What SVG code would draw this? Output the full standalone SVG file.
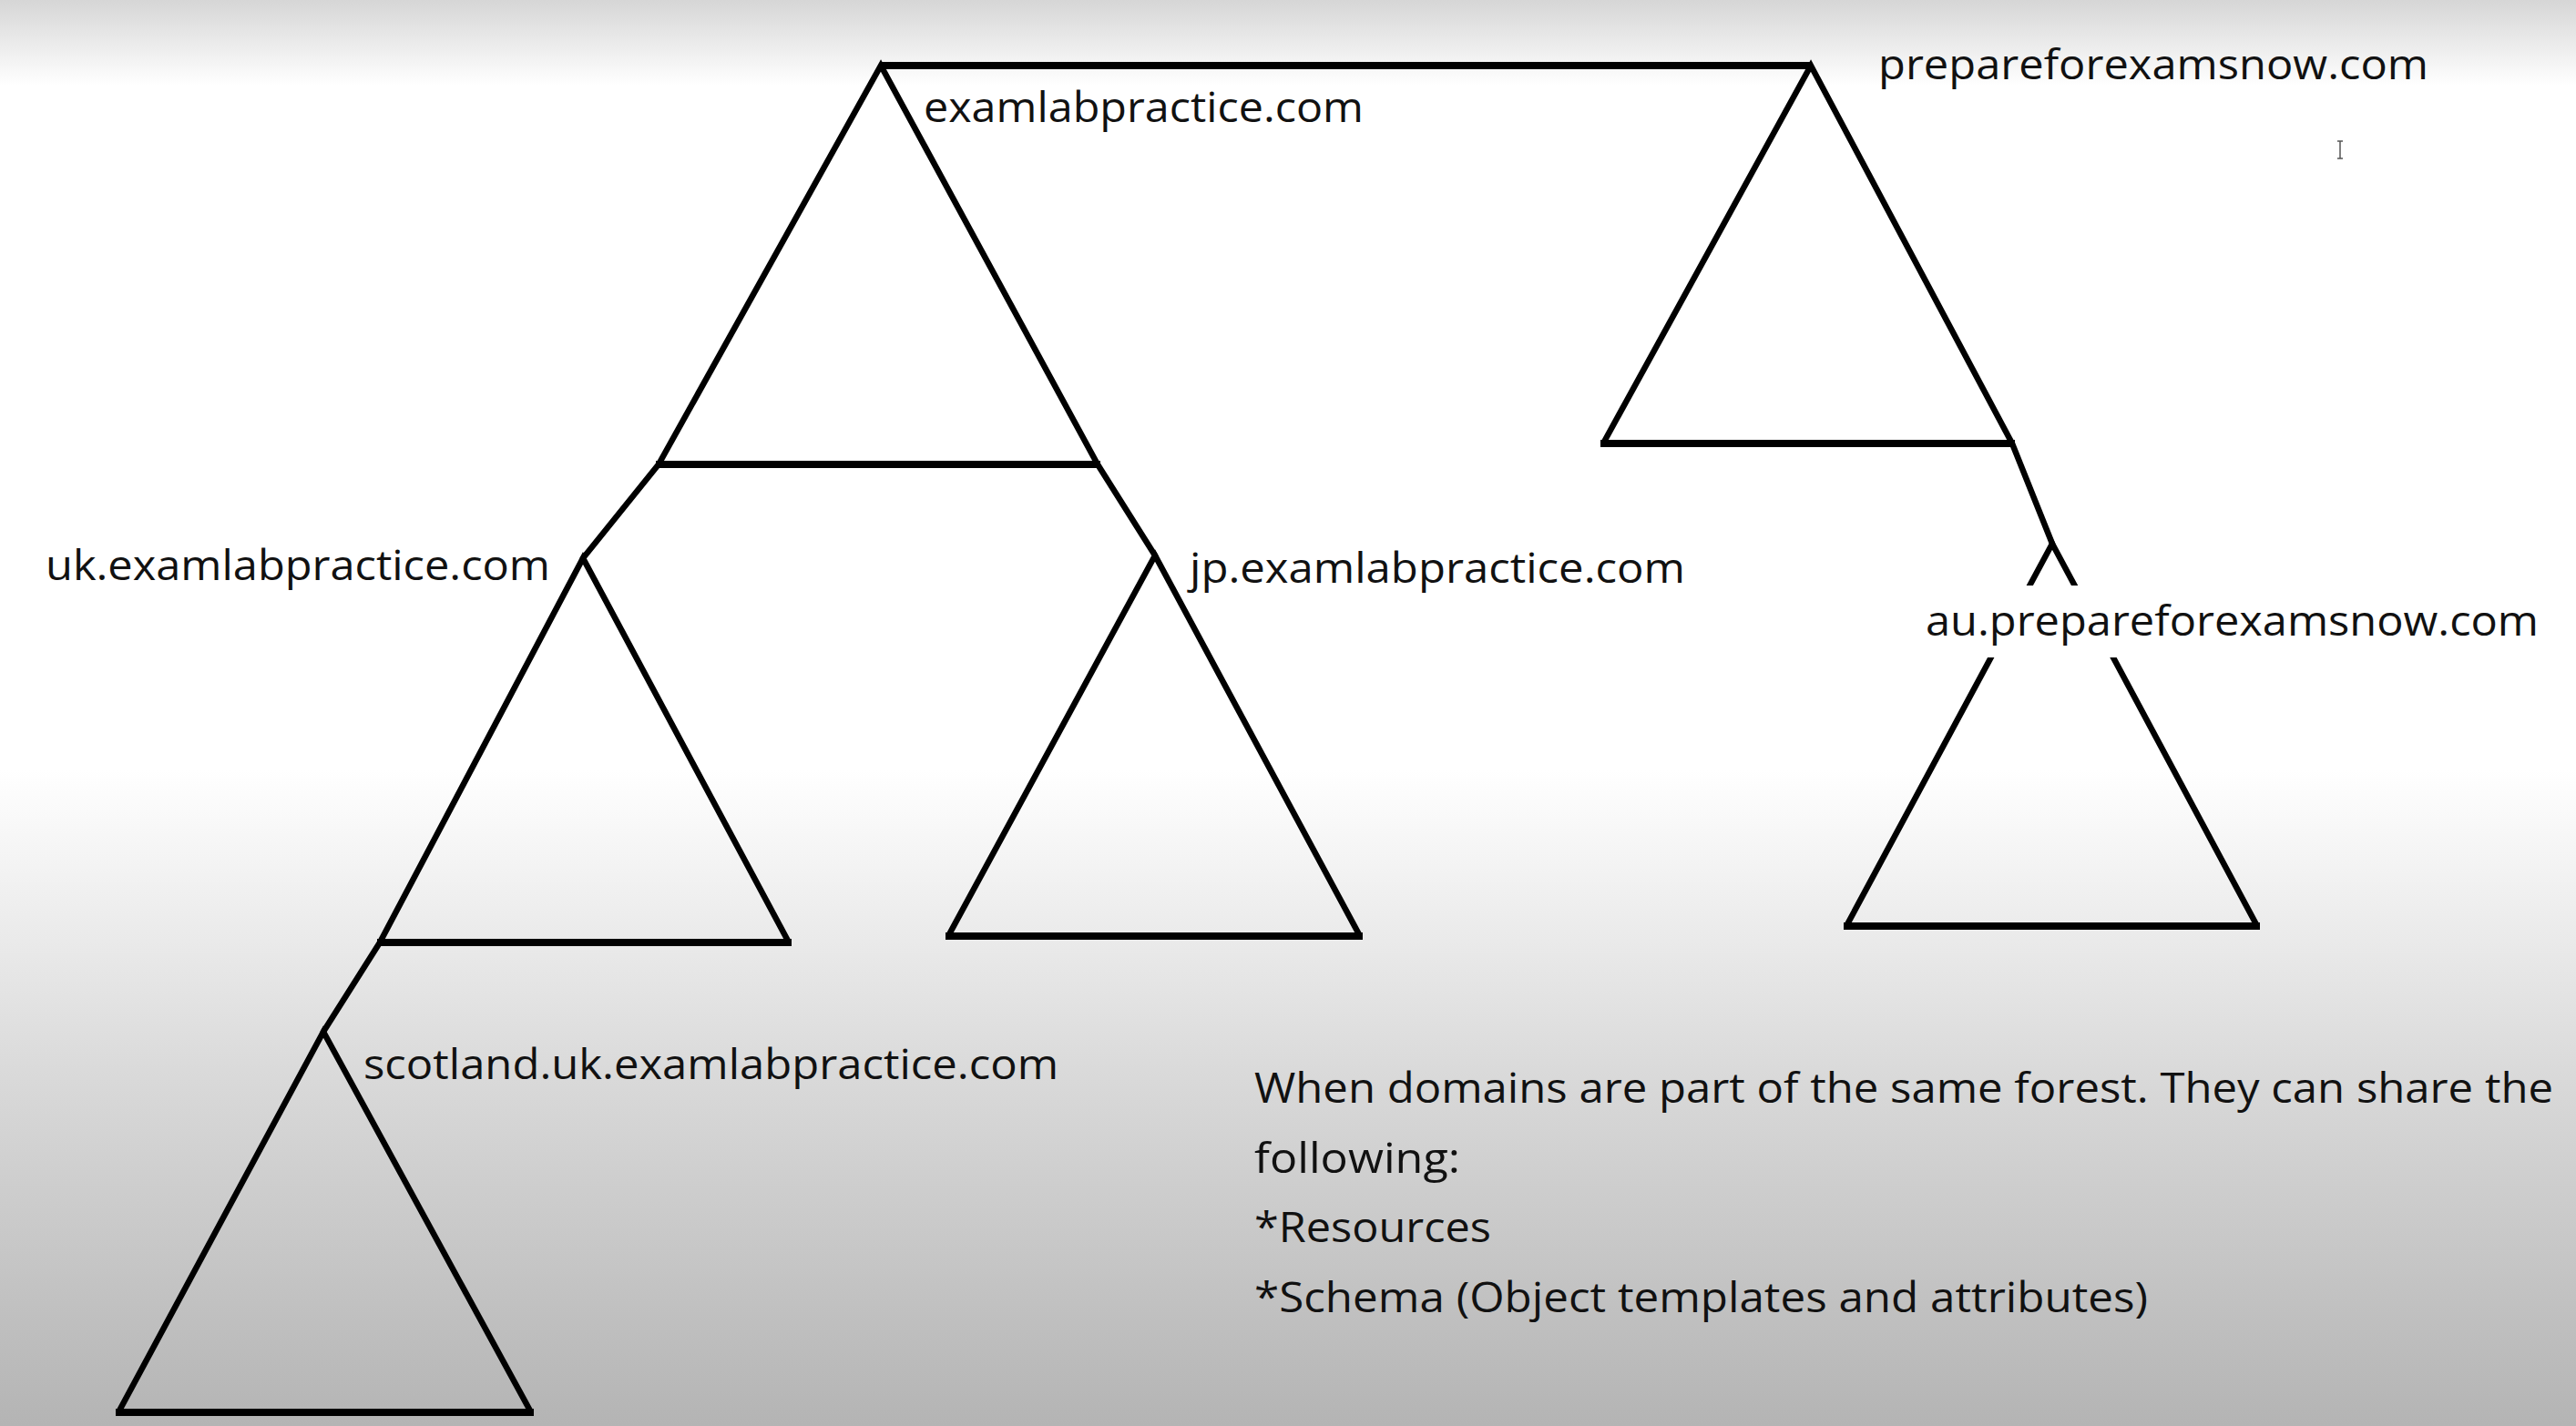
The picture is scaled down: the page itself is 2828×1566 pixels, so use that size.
<svg xmlns="http://www.w3.org/2000/svg" width="2828" height="1566" viewBox="0 0 2828 1566">
  <defs>
    <linearGradient id="bg" x1="0" y1="0" x2="0" y2="1">
      <stop offset="0" stop-color="#d6d6d6"/>
      <stop offset="0.06" stop-color="#ffffff"/>
      <stop offset="0.54" stop-color="#ffffff"/>
      <stop offset="0.75" stop-color="#dadada"/>
      <stop offset="1" stop-color="#b4b4b4"/>
    </linearGradient>
    <style>
      .tri { fill: none; stroke: #000; stroke-width: 6.5; stroke-linejoin: miter; }
      .base { stroke: #000; stroke-width: 8; stroke-linecap: butt; }
      .link { fill: none; stroke: #000; stroke-width: 6.5; stroke-linecap: round; }
      .label { font-family: "Open Sans", "Noto Sans", "Liberation Sans", sans-serif; font-size: 45px; fill: #111; }
      .note { font-family: "Open Sans", "Noto Sans", "Liberation Sans", sans-serif; font-size: 46px; fill: #111; }
    </style>
  </defs>

  <rect x="0" y="0" width="2828" height="1566" fill="url(#bg)"/>

  <!-- links between domain trees -->
  <g id="connectors">
    <line class="base" x1="967" y1="72" x2="1988" y2="72"/>
    <line class="link" x1="723" y1="510" x2="640" y2="613"/>
    <line class="link" x1="1205" y1="510" x2="1268" y2="610"/>
    <line class="link" x1="417" y1="1035" x2="355" y2="1133"/>
    <line class="link" x1="2209" y1="487" x2="2253" y2="597"/>
  </g>

  <!-- forest root domain -->
  <g id="examlabpractice">
    <polyline class="tri" points="723,510 967,72 1205,510"/>
    <line class="base" x1="720" y1="510" x2="1208" y2="510"/>
    <text class="label" x="1014" y="134" textLength="483" lengthAdjust="spacingAndGlyphs">examlabpractice.com</text>
  </g>

  <!-- second tree root -->
  <g id="prepareforexamsnow">
    <polyline class="tri" points="1760,487 1988,72 2209,487"/>
    <line class="base" x1="1757" y1="487" x2="2212" y2="487"/>
    <text class="label" x="2062" y="87" textLength="604" lengthAdjust="spacingAndGlyphs">prepareforexamsnow.com</text>
  </g>

  <!-- child domains -->
  <g id="uk">
    <polyline class="tri" points="417,1035 640,613 866,1035"/>
    <line class="base" x1="414" y1="1035" x2="869" y2="1035"/>
    <text class="label" x="50" y="637" textLength="554" lengthAdjust="spacingAndGlyphs">uk.examlabpractice.com</text>
  </g>

  <g id="jp">
    <polyline class="tri" points="1041,1028 1268,610 1493,1028"/>
    <line class="base" x1="1038" y1="1028" x2="1496" y2="1028"/>
    <text class="label" x="1306" y="640" textLength="544" lengthAdjust="spacingAndGlyphs">jp.examlabpractice.com</text>
  </g>

  <g id="scotland">
    <polyline class="tri" points="130,1551 355,1133 583,1551"/>
    <line class="base" x1="127" y1="1551" x2="586" y2="1551"/>
    <text class="label" x="399" y="1185" textLength="763" lengthAdjust="spacingAndGlyphs">scotland.uk.examlabpractice.com</text>
  </g>

  <g id="au">
    <polyline class="tri" points="2027,1017 2253,597 2478,1017"/>
    <line class="base" x1="2024" y1="1017" x2="2481" y2="1017"/>
    <rect x="2100" y="643" width="700" height="79" fill="#ffffff"/>
    <text class="label" x="2114" y="698" textLength="673" lengthAdjust="spacingAndGlyphs">au.prepareforexamsnow.com</text>
  </g>

  <!-- explanatory note -->
  <g id="note">
    <text class="note" x="1377" y="1211" textLength="1426" lengthAdjust="spacingAndGlyphs">When domains are part of the same forest. They can share the</text>
    <text class="note" x="1377" y="1288" textLength="226" lengthAdjust="spacingAndGlyphs">following:</text>
    <text class="note" x="1377" y="1364" textLength="260" lengthAdjust="spacingAndGlyphs">*Resources</text>
    <text class="note" x="1377" y="1441" textLength="981" lengthAdjust="spacingAndGlyphs">*Schema (Object templates and attributes)</text>
  </g>

  <!-- text cursor -->
  <path d="M2566,155 L2572,155 M2569,155 L2569,174 M2566,174 L2572,174" stroke="#555" stroke-width="1.5" fill="none"/>
</svg>
